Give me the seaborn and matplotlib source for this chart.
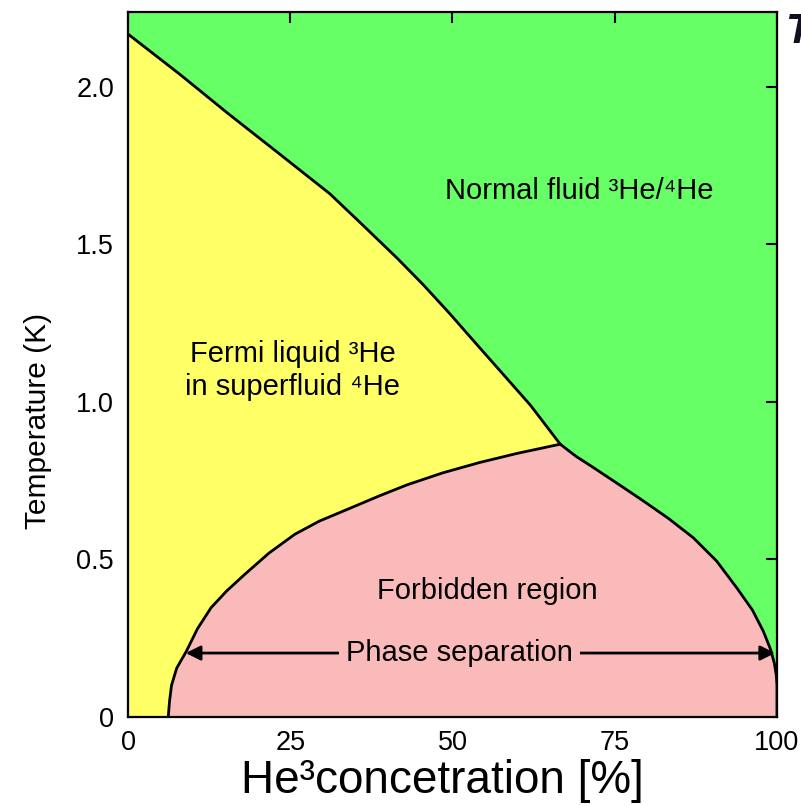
import numpy as np
import pandas as pd
import matplotlib
matplotlib.use("Agg")
import matplotlib.pyplot as plt
import seaborn as sns

# ---- data ----
lambda_x = [0.0, 8.0, 15.4, 23.0, 31.1, 36.0, 41.4, 45.5, 49.6, 53.0, 56.9, 62.0, 66.6]
lambda_t = [2.168, 2.040, 1.916, 1.793, 1.661, 1.565, 1.458, 1.372, 1.280, 1.200, 1.109, 0.990, 0.866]

left_x = [6.2, 6.4, 6.7, 7.5, 9.0, 10.7, 12.8, 15.2, 18.0, 21.7, 25.7, 29.5, 33.9, 38.5,
          43.0, 48.5, 54.2, 60.0, 66.6]
left_t = [0.0, 0.05, 0.10, 0.155, 0.209, 0.28, 0.347, 0.40, 0.453, 0.52, 0.580, 0.622,
          0.660, 0.700, 0.737, 0.775, 0.808, 0.837, 0.866]

right_x = [66.6, 69.0, 71.7, 75.5, 79.4, 83.3, 87.1, 90.7, 93.8, 96.2, 97.9, 99.0, 99.6,
           99.9, 100.0]
right_t = [0.866, 0.828, 0.792, 0.740, 0.686, 0.630, 0.569, 0.495, 0.410, 0.340, 0.272,
           0.215, 0.170, 0.130, 0.100]

x_ticks = [0, 25, 50, 75, 100]
y_ticks = [0, 0.5, 1.0, 1.5, 2.0]
y_tick_labels = ["0", "0.5", "1.0", "1.5", "2.0"]

GREEN = "#66ff66"
YELLOW = "#ffff66"
PINK = "#fbbaba"

sns.set_theme(style="ticks")
plt.rcParams["font.family"] = ["Liberation Sans", "DejaVu Sans"]
plt.rcParams["text.color"] = "black"
plt.rcParams["axes.labelcolor"] = "black"
plt.rcParams["xtick.color"] = "black"
plt.rcParams["ytick.color"] = "black"

fig = plt.figure(figsize=(8.01, 8.06), dpi=100)
ax = fig.add_axes([128 / 801, (806 - 717) / 806, (777 - 128) / 801, (717 - 12) / 806])
ax.set_facecolor(GREEN)

# yellow region
yx = [0.0] + lambda_x + left_x[::-1] + [0.0]
yt = [0.0] + lambda_t + left_t[::-1] + [0.0]
ax.fill(yx, yt, color=YELLOW, lw=0, zorder=1)
# pink region
px = left_x + right_x[1:] + [100.0]
pt = left_t + right_t[1:] + [0.0]
ax.fill(px, pt, color=PINK, lw=0, zorder=1)

df_l = pd.DataFrame({"x": lambda_x, "t": lambda_t})
df_a = pd.DataFrame({"x": left_x, "t": left_t})
df_b = pd.DataFrame({"x": right_x + [100.0], "t": right_t + [0.0]})
for d in (df_l, df_a, df_b):
    sns.lineplot(data=d, x="x", y="t", ax=ax, color="black", lw=2.0,
                 sort=False, estimator=None, zorder=3)

ax.set_xlim(0, 100)
ax.set_ylim(0, 2.238)
ax.set_xticks(x_ticks)
ax.set_xticklabels([str(v) for v in x_ticks])
ax.set_yticks(y_ticks)
ax.set_yticklabels(y_tick_labels)
ax.tick_params(direction="in", length=8, width=1.5, labelsize=19.5,
               top=True, right=True, colors="black", pad=10)
ax.tick_params(axis="x", pad=9)
for s in ax.spines.values():
    s.set_linewidth(1.6)
    s.set_color("black")
    s.set_zorder(5)

ax.set_xlabel("He³concetration [%]", fontsize=33)
ax.set_ylabel("Temperature (K)", fontsize=21.5)
ax.xaxis.set_label_coords(0.485, -0.060)
ax.yaxis.set_label_coords(-0.117, 0.42)

# region labels
ax.text(69.5, 1.67, "Normal fluid ³He/⁴He", fontsize=21, ha="center", va="center", zorder=4)
ax.text(25.4, 1.10, "Fermi liquid ³He\nin superfluid ⁴He", fontsize=21,
        ha="center", va="center", linespacing=1.2, zorder=4)
ax.text(55.3, 0.40, "Forbidden region", fontsize=21, ha="center", va="center", zorder=4)

ax.annotate("", xy=(8.9, 0.203), xytext=(99.7, 0.203),
            arrowprops=dict(arrowstyle="<|-|>", color="black", lw=2.0,
                            mutation_scale=22, shrinkA=0, shrinkB=0), zorder=4)
ax.text(51.1, 0.203, "Phase separation", fontsize=21, ha="center", va="center",
        zorder=5, bbox=dict(facecolor=PINK, edgecolor="none", pad=5))

fig.text(0.980, 0.985, "T", fontsize=30, style="italic", weight="bold",
         ha="left", va="top", color="#101020")

fig.savefig("out.png", dpi=100)
